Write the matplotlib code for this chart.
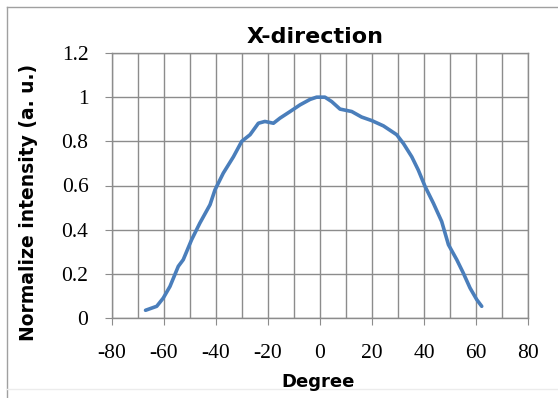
import matplotlib
matplotlib.use("Agg")
import matplotlib.pyplot as plt
from matplotlib.ticker import MultipleLocator
from matplotlib.lines import Line2D

plt.rcParams["axes.unicode_minus"] = False

degree = [-67.1, -62.8, -60.3, -57.7, -54.5, -52.6, -49.4, -46.2, -42.3, -40.4,
          -37.2, -33.3, -30.1, -26.9, -23.7, -21.2, -17.9, -15.4, -11.5, -7.7,
          -3.8, -1.3, 1.9, 4.5, 7.7, 12.2, 16.0, 19.9, 24.4, 29.5,
          32.1, 35.3, 37.8, 40.4, 43.6, 46.8, 49.4, 52.6, 55.1, 57.7,
          60.3, 62.2]
intensity = [0.035, 0.053, 0.09, 0.143, 0.234, 0.264, 0.354, 0.43, 0.513, 0.58,
             0.656, 0.73, 0.80, 0.83, 0.882, 0.89, 0.882, 0.905, 0.935, 0.965,
             0.99, 1.0, 1.0, 0.98, 0.946, 0.935, 0.91, 0.894, 0.87, 0.83,
             0.79, 0.73, 0.67, 0.596, 0.52, 0.437, 0.332, 0.264, 0.204, 0.136,
             0.083, 0.053]

x_ticks = [-80, -60, -40, -20, 0, 20, 40, 60, 80]
y_ticks = [0, 0.2, 0.4, 0.6, 0.8, 1.0, 1.2]
y_tick_labels = ["0", "0.2", "0.4", "0.6", "0.8", "1", "1.2"]

W, H = 558, 398
fig = plt.figure(figsize=(W / 100, H / 100), dpi=100)
fig.patch.set_facecolor("white")

left, right, top, bottom = 112, 528, 53, 318
ax = fig.add_axes([left / W, 1 - bottom / H, (right - left) / W, (bottom - top) / H])

grid_c = "#8c8c8c"
ax.plot(degree, intensity, color="#4A7EBB", lw=2.6, solid_capstyle="round",
        solid_joinstyle="round", zorder=3)

ax.set_xlim(-80, 80)
ax.set_ylim(0, 1.2)
ax.set_xticks(x_ticks)
ax.set_yticks(y_ticks)
ax.set_yticklabels(y_tick_labels)
ax.xaxis.set_minor_locator(MultipleLocator(10))
ax.grid(True, which="major", axis="y", color=grid_c, lw=1.0)
ax.grid(True, which="both", axis="x", color=grid_c, lw=1.0)
ax.tick_params(axis="x", which="major", direction="out", length=5, color=grid_c,
               pad=14)
ax.tick_params(axis="x", which="minor", length=0)
ax.tick_params(axis="y", direction="out", length=5, color=grid_c, pad=12)
for sp in ax.spines.values():
    sp.set_color(grid_c)
    sp.set_linewidth(1.0)

for lab in ax.get_xticklabels() + ax.get_yticklabels():
    lab.set_fontfamily("Liberation Serif")
    lab.set_fontsize(15.5)

fig.text(315 / W, 1 - 43 / H, "X-direction", fontfamily="DejaVu Sans",
         fontweight="bold", fontsize=16, ha="center", va="baseline")
fig.text(318 / W, 1 - 387 / H, "Degree", fontfamily="DejaVu Sans",
         fontweight="bold", fontsize=13, ha="center", va="baseline")
fig.text(29 / W, 1 - 202 / H, "Normalize intensity (a. u.)",
         fontfamily="DejaVu Sans", fontweight="bold", fontsize=13.5,
         rotation=90, ha="center", va="center")

# outer chart border
border_c = "#a0a0a0"
fig.add_artist(Line2D([7 / W, 7 / W], [0, 1 - 7 / H], transform=fig.transFigure,
                      color=border_c, lw=1))
fig.add_artist(Line2D([7 / W, 1.0], [1 - 7 / H, 1 - 7 / H],
                      transform=fig.transFigure, color=border_c, lw=1))
fig.add_artist(Line2D([7 / W, 1.0], [1 - 389 / H, 1 - 389 / H],
                      transform=fig.transFigure, color="#ececec", lw=1))

fig.savefig("out.png", dpi=100, facecolor="white")
